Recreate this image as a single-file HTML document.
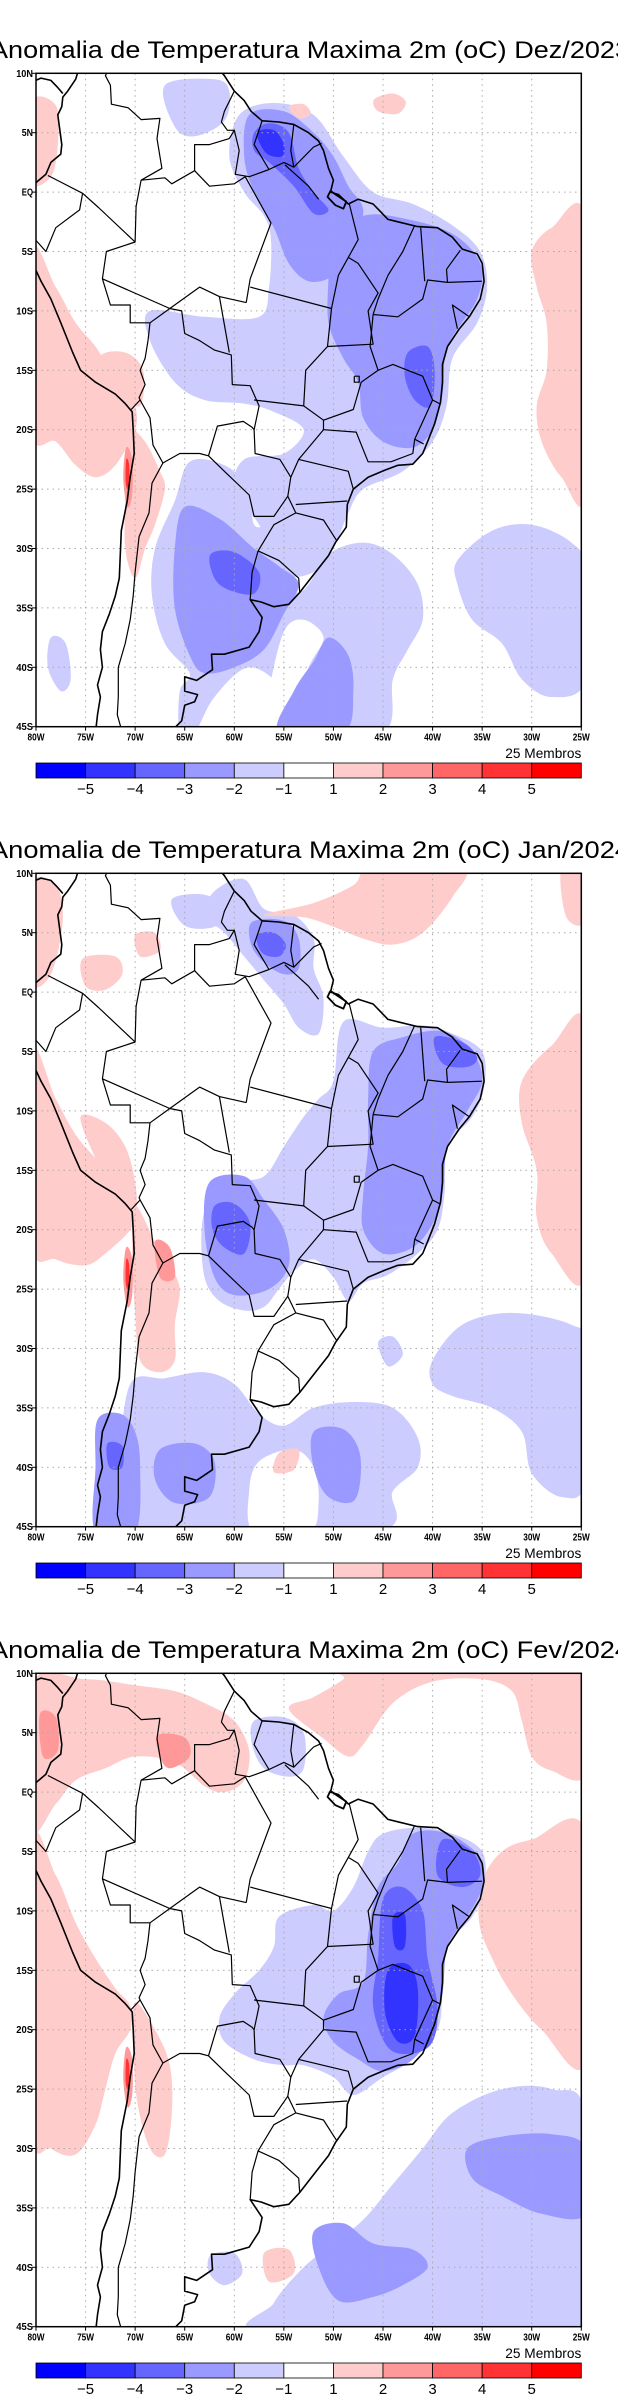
<!DOCTYPE html>
<html><head><meta charset="utf-8"><style>
html,body{margin:0;padding:0;background:#fff;width:618px;height:2400px;overflow:hidden}
svg{display:block}
text{font-family:"Liberation Sans",sans-serif}
</style></head>
<body>
<svg id="fig" width="618" height="2400" viewBox="0 0 618 2400"></svg>
<script>
// ---------- data ----------
const panelTitles = ["Anomalia de Temperatura Maxima 2m (oC) Dez/2023","Anomalia de Temperatura Maxima 2m (oC) Jan/2024","Anomalia de Temperatura Maxima 2m (oC) Fev/2024"];
const latTicks = [10,5,0,-5,-10,-15,-20,-25,-30,-35,-40,-45];
const latLabels = ["10N","5N","EQ","5S","10S","15S","20S","25S","30S","35S","40S","45S"];
const lonTicks = [-80,-75,-70,-65,-60,-55,-50,-45,-40,-35,-30,-25];
const lonLabels = ["80W","75W","70W","65W","60W","55W","50W","45W","40W","35W","30W","25W"];
const cbarLevels = [-5,-4,-3,-2,-1,1,2,3,4,5];
const cbarLabels = ["-5","-4","-3","-2","-1","1","2","3","4","5"];
const cbarColors = ["#0000ff","#3333ff","#6666ff","#9999ff","#ccccff","#ffffff","#ffcccc","#ff9999","#ff6666","#ff3333","#ff0000"];
const levelColor = {"-5":"#0000ff","-4":"#3333ff","-3":"#6666ff","-2":"#9999ff","-1":"#ccccff","0":"#ffffff","1":"#ffcccc","2":"#ff9999","3":"#ff6666","4":"#ff3333","5":"#ff0000"};

const anomDez = [
 [-1,[[-59.5,6.5],[-56,7.5],[-52,6.5],[-49,3],[-46,0],[-42,-1],[-38,-2.8],[-35.2,-5],[-34.5,-8],[-35.5,-11],[-38,-14],[-38.6,-18],[-40,-21],[-43,-23.5],[-47,-25],[-48.5,-27],[-50,-30],[-52,-32],[-55,-32],[-57.5,-28],[-60,-25],[-59,-22.5],[-55,-22],[-53,-20],[-56,-18.5],[-59,-17.8],[-63,-17.5],[-66,-16],[-68.5,-12.5],[-68.5,-10],[-63,-10.5],[-57.5,-10.5],[-56.5,-8],[-56.3,-4],[-57,-2],[-59,0],[-60.5,3]]],
 [-1,[[-67,9],[-62,9.5],[-60.5,8.5],[-61,6],[-64,4.7],[-66,5.5]]],
 [-1,[[-64.5,-22.7],[-61,-23],[-58.5,-25],[-58,-28],[-56,-28.5],[-55,-33],[-53,-33.5],[-50.5,-30.5],[-47,-29.5],[-44,-30.5],[-41.5,-33],[-41,-36],[-42.5,-38.5],[-44,-41],[-45,-45.5],[-54,-45.5],[-55,-42],[-58.5,-40],[-62,-42.5],[-64,-45.5],[-65.5,-45.5],[-65.5,-42],[-64.5,-40.5],[-67,-38],[-68.3,-34],[-68,-30],[-66,-26]]],
 [-1,[[-37.5,-31],[-34,-28.5],[-30,-28],[-26,-29.5],[-24.5,-32],[-24.5,-41],[-28,-42.5],[-31,-41],[-33,-38],[-36,-36],[-37.5,-33]]],
 [-1,[[-78.5,-37.5],[-77,-38],[-76.5,-41],[-77.5,-42],[-78.8,-40]]],
 [0,[[-55,-37],[-53,-36],[-51,-37.5],[-52.5,-40],[-55,-45.5],[-57,-45.5],[-56.5,-42]]],
 [-2,[[-58.5,6.5],[-55,6.8],[-52,5],[-50,3],[-48.5,0.5],[-47,-1.5],[-48,-4.5],[-50,-7],[-52.5,-7.5],[-54.5,-6],[-56,-3],[-58,0],[-59,3]]],
 [-2,[[-50.5,-4],[-47,-2],[-43,-2.2],[-38,-3.5],[-35.2,-6],[-35.5,-9],[-38.5,-13],[-39,-17],[-40,-20],[-42,-21.5],[-45,-21],[-47,-19],[-47.5,-16],[-49,-14],[-50.5,-11],[-50.5,-7]]],
 [-2,[[-65,-26.5],[-61.5,-27.5],[-58,-30],[-55.5,-31.5],[-53.5,-33],[-55,-35.5],[-57,-38.5],[-60,-40],[-63,-40.5],[-64.5,-39],[-66,-35],[-66,-30]]],
 [-2,[[-50.5,-37.5],[-48.5,-39],[-48,-42],[-49,-45.5],[-55.5,-45.5],[-54,-42],[-52,-39.5]]],
 [-3,[[-58,5],[-56.5,5.8],[-54.5,5],[-53.5,2],[-52,0],[-50.5,-1.5],[-52,-1.8],[-54,0.5],[-56.5,2.5],[-58,3.5]]],
 [-3,[[-42.5,-13.5],[-40.5,-13],[-39.8,-15],[-40.2,-18],[-41.8,-17.5],[-42.8,-15.5]]],
 [-3,[[-62.4,-30.5],[-60,-30.3],[-57.5,-32],[-58,-33.8],[-60.5,-33.5],[-62,-32.5]]],
 [-4,[[-57.7,5],[-56,5.2],[-55,4],[-55.2,3],[-56.8,3.3]]],
 [1,[[-80.5,-5],[-78,-8],[-76,-11],[-74,-13],[-72.5,-15],[-71,-16.5],[-70,-18],[-70,-20],[-72,-23],[-74,-24],[-76,-23],[-78,-21],[-80.5,-20]]],
 [1,[[-70.5,-20],[-69,-21],[-67.5,-23.5],[-67,-25],[-68,-28],[-69,-30],[-70,-32.5],[-71,-30],[-71,-25],[-71,-22]]],
 [1,[[-73.5,-13.8],[-71,-13.5],[-69.2,-15],[-69.5,-18],[-71.5,-17],[-73,-16]]],
 [1,[[-80.5,7.5],[-78,7.3],[-77.8,4],[-78.5,1.3],[-80.5,1]]],
 [1,[[-24.5,-2.5],[-28,-3],[-30,-5],[-29.5,-8],[-28.5,-11],[-28.5,-15],[-29.5,-18],[-29,-21],[-27,-24],[-24.5,-25]]],
 [1,[[-45.9,7.8],[-44,8.3],[-42.7,7.6],[-43.5,6.6],[-45.5,6.8]]],
 [1,[[-54.5,7.2],[-53,7.4],[-52.3,6.6],[-53.5,6.2]]],
 [2,[[-70.9,-21.5],[-70.3,-22.5],[-70.3,-25.5],[-70.8,-26.5],[-71.2,-24]]],
 [4,[[-70.9,-22.5],[-70.6,-23],[-70.6,-25],[-70.95,-24.5]]]
];
const anomJan = [
 [-1,[[-62,8.5],[-59,9.5],[-57,7],[-54,6.5],[-52,4.5],[-52,2],[-51,-0.5],[-51.5,-3.5],[-53.5,-3],[-55,-1],[-57,1],[-59,3],[-61,5],[-63,6.5]]],
 [-1,[[-66.3,7.8],[-63,8.2],[-61,7],[-62,5.5],[-65,5.6]]],
 [-1,[[-49,-2.5],[-45,-3],[-41,-2.8],[-38,-3.5],[-35,-5],[-34.8,-8],[-36,-10.5],[-38.5,-13],[-38.8,-17],[-39.5,-20],[-41.5,-22],[-44.5,-23.8],[-47,-24.5],[-48.5,-26],[-50,-24],[-52,-22.5],[-54,-23.5],[-55.5,-25],[-57,-26.5],[-59,-26.8],[-61.5,-26],[-63,-24],[-63.3,-20],[-62.5,-17.5],[-60,-16],[-57,-15.5],[-55,-13],[-53,-10.5],[-51.5,-9],[-50,-7.5]]],
 [-1,[[-70.5,-33],[-67,-32.5],[-63,-32],[-60,-33],[-57.5,-35.5],[-55,-36.5],[-52,-35],[-48,-34.5],[-44,-35],[-41.5,-37.5],[-41.5,-40],[-44,-42],[-46,-45.5],[-70.5,-45.5],[-71.5,-40]]],
 [-1,[[-40,-31],[-37,-28],[-32,-27],[-26,-28],[-24.5,-30],[-24.5,-41],[-27,-42.5],[-30,-40.5],[-31,-37],[-34,-35],[-38,-34],[-40,-33]]],
 [-1,[[-45.5,-29.5],[-44,-29],[-43,-30.5],[-44.5,-31.5]]],
 [0,[[-57.5,-39.5],[-54,-38.5],[-52,-40],[-51.5,-43],[-52.5,-45.5],[-58,-45.5],[-58.5,-42]]],
 [-2,[[-58.2,5.9],[-55,6],[-53.5,4.5],[-53.5,2],[-55,1.5],[-57,2.5],[-58.3,4]]],
 [-2,[[-46,-5],[-43,-3.8],[-39,-3.3],[-36,-5],[-35,-7.5],[-36.5,-10],[-38.5,-13],[-39,-17],[-40,-19.5],[-42,-21.5],[-45,-22],[-47,-20],[-47,-17],[-46.5,-13],[-46.5,-9]]],
 [-2,[[-62.5,-16],[-59,-15.5],[-57,-17.5],[-55,-20],[-54.5,-23],[-56.5,-25],[-60,-25.5],[-62,-24],[-63,-20]]],
 [-2,[[-73.8,-36],[-71.5,-35.5],[-70,-37],[-69.5,-40],[-70,-45.5],[-74,-45.5],[-74,-40]]],
 [-2,[[-67.5,-38.5],[-64,-38],[-62,-39.5],[-62.5,-42.5],[-66,-43],[-68,-41]]],
 [-2,[[-52,-37],[-49,-36.8],[-47.3,-39],[-47.8,-42.7],[-50.5,-42.5],[-52,-40]]],
 [-3,[[-57.7,4.8],[-56,5],[-54.8,4],[-55.5,3],[-57.2,3.3]]],
 [-3,[[-62,-18],[-60,-17.8],[-58.4,-19.5],[-59,-22],[-61,-21.5],[-62.2,-20]]],
 [-3,[[-39.8,-3.8],[-37,-4.2],[-35.5,-5.5],[-36.5,-6.3],[-39,-6]]],
 [-3,[[-72.8,-38],[-71.3,-38.2],[-71.3,-40],[-72.6,-40]]],
 [1,[[-57,6.5],[-52,7.5],[-48,9],[-46,10.5],[-37,10.5],[-38,8],[-41,5],[-44,4],[-47,4.5],[-50,5.5],[-53,6.3]]],
 [1,[[-27,10.5],[-24.5,10.5],[-24.5,6],[-26.5,6.3]]],
 [1,[[-24.5,-3],[-28,-4.5],[-31,-7.5],[-31,-11],[-29.5,-15],[-29.5,-19],[-28,-22],[-24.5,-23.5]]],
 [1,[[-80.5,-5],[-78,-9],[-76,-12],[-74,-14],[-72,-16],[-70.3,-18.5],[-70.5,-20],[-73,-22],[-75,-23],[-78,-22.5],[-80.5,-21]]],
 [1,[[-75.5,-10.5],[-73,-11],[-71,-13],[-70,-16],[-70,-18.4],[-72,-17],[-74,-14]]],
 [1,[[-70,-18],[-68,-21],[-66.5,-23],[-65.5,-25],[-66,-28],[-66,-31],[-67.5,-32],[-69.5,-31],[-70,-27],[-70.3,-22]]],
 [1,[[-80.5,9],[-78,9],[-77.3,6],[-78.5,1.5],[-80.5,1]]],
 [1,[[-75.3,2.8],[-72,3],[-71.3,1.5],[-73,0.2],[-75,0.5]]],
 [1,[[-70,4.8],[-68,5],[-67.5,3.5],[-69.5,3]]],
 [1,[[-55.5,-38.8],[-53.5,-38.5],[-54,-40.2],[-56,-40.4]]],
 [2,[[-68,-21],[-66.5,-21.5],[-66,-24],[-67.5,-24]]],
 [2,[[-70.9,-21.5],[-70.3,-22.5],[-70.3,-25.5],[-70.8,-26.5],[-71.2,-24]]],
 [4,[[-70.9,-22.5],[-70.6,-23],[-70.6,-25],[-70.95,-24.5]]]
];
const anomFev = [
 [1,[[-54.5,7],[-52,8],[-49,9.5],[-48,10.5],[-24.5,10.5],[-24.5,1.6],[-28,1.8],[-30,3],[-31,6],[-32,8.5],[-35,9.5],[-40,9.3],[-44,7.5],[-47,4],[-48.5,3],[-51,4.5]]],
 [1,[[-24.5,-3.5],[-30,-4],[-33,-5],[-35,-7.5],[-35.3,-11],[-34,-14],[-32,-17],[-29,-20],[-24.5,-22.5]]],
 [1,[[-80.5,-4.5],[-78,-7],[-76,-11],[-74,-14],[-72,-16.5],[-70.5,-18],[-70.5,-20],[-72,-22],[-73,-25],[-74,-28],[-76,-30.5],[-78.5,-30],[-80.5,-28]]],
 [1,[[-80.5,9],[-75,9.5],[-70,9],[-66,8.5],[-63,7.5],[-60,6],[-58.5,3.5],[-59,1],[-61,0],[-63,0.5],[-66,2.5],[-70,3],[-73,2],[-76,1],[-78,-1],[-80.5,-3]]],
 [1,[[-70,-17.7],[-68,-20],[-66.5,-23],[-66.3,-27],[-67,-30.5],[-68.5,-30],[-69.8,-26],[-70.2,-21]]],
 [1,[[-57,-38.8],[-54.5,-38.5],[-54,-40.5],[-56.5,-41.2]]],
 [2,[[-67.7,4.8],[-65,4.6],[-64.5,3],[-66.5,2],[-67.5,3]]],
 [2,[[-79.6,6.6],[-78,6.3],[-77.8,3.5],[-79.3,3]]],
 [2,[[-70.9,-21.5],[-70.3,-22.5],[-70.3,-25.5],[-70.8,-26.5],[-71.2,-24]]],
 [4,[[-70.9,-22.5],[-70.6,-23],[-70.6,-25],[-70.95,-24.5]]],
 [-1,[[-55.5,-10.5],[-52,-9.5],[-50,-10],[-48,-8],[-46.5,-5],[-45,-3.5],[-41.5,-3],[-38,-3.5],[-35,-5],[-34.8,-8],[-36,-10.5],[-38.5,-13],[-39,-17],[-39.5,-20],[-42,-22.5],[-45,-24],[-48,-25.5],[-50,-24],[-53,-23],[-55,-23],[-58,-22.5],[-61,-21],[-61.5,-19],[-60,-17],[-57.5,-15],[-56,-13]]],
 [-1,[[-58,6],[-55,6.3],[-53,5],[-53,2],[-54.5,1.3],[-57,2],[-58.2,4]]],
 [-1,[[-24.5,-27.5],[-28,-25],[-33,-25],[-38,-27],[-41,-30],[-44,-33],[-47,-36],[-50,-38],[-53,-40],[-56,-43],[-56.5,-45.5],[-24.5,-45.5]]],
 [-1,[[-62.4,-39],[-60,-38.8],[-59.2,-40.5],[-61,-41.5],[-62.5,-40.5]]],
 [-2,[[-42,-3.5],[-38.5,-3.5],[-35.2,-5.5],[-35,-8],[-36.5,-10.5],[-38.5,-13],[-39,-17],[-40,-20],[-42,-22.5],[-45,-23.5],[-47.5,-22.5],[-50,-21],[-51,-19],[-49.5,-17],[-47,-16],[-46.5,-12],[-45.5,-8],[-43.5,-6]]],
 [-2,[[-36.5,-30],[-33,-29],[-28,-28.8],[-24.5,-30],[-24.5,-35.5],[-29,-35.5],[-33,-34],[-36,-32.5]]],
 [-2,[[-52,-37],[-49,-36.3],[-46,-38],[-42,-38.5],[-40.5,-40],[-43,-41.5],[-46,-42.5],[-49.5,-42.8],[-51.5,-40]]],
 [-3,[[-45,-9],[-43,-8],[-41,-10],[-40.5,-14],[-39.5,-18],[-40,-21],[-42,-22],[-44.5,-21.5],[-46,-18],[-45.5,-14]]],
 [-3,[[-39,-4],[-36,-5],[-35.2,-7],[-37,-8],[-39.5,-7]]],
 [-4,[[-44.5,-15],[-42.5,-14.5],[-41.5,-16.5],[-41.8,-20.5],[-43.5,-21],[-44.8,-18.5]]],
 [-4,[[-44,-10.5],[-42.8,-10.3],[-42.8,-13],[-43.8,-13]]]
];
const panelAnom = [anomDez, anomJan, anomFev];

const coastAtlantic = [[-61.8,10.6],[-61,9.8],[-60,8.5],[-59,7.7],[-58.3,6.8],[-57.2,6],[-55.5,5.9],[-54,5.7],[-52.5,5],[-51.5,4.3],[-51,3.5],[-50.5,2],[-50,1],[-50.3,0],[-49.5,-0.2],[-48.5,-1],[-47.5,-0.6],[-46,-1],[-44.5,-2.3],[-43.5,-2.5],[-41.5,-2.9],[-39.5,-3],[-38,-3.8],[-37,-4.8],[-35.5,-5.2],[-35,-6],[-34.8,-7.5],[-35.2,-9],[-36.3,-10.5],[-37.3,-11.5],[-38.5,-13],[-39,-14.5],[-39,-16],[-39.2,-17.7],[-39.8,-19.5],[-40.5,-21],[-41,-22],[-42,-22.9],[-43.5,-23],[-44.8,-23.4],[-46.5,-24],[-48,-25],[-48.6,-26.3],[-48.7,-28.2],[-49.8,-29.5],[-50.5,-30.6],[-52,-32.2],[-53.4,-33.7],[-54.5,-34.7],[-56,-34.9],[-57.3,-34.5],[-58.4,-34.3],[-57.2,-35.8],[-57.5,-37],[-58.5,-38.3],[-61,-38.9],[-62.3,-38.9],[-62.2,-40.2],[-63.8,-41.1],[-65,-40.8],[-65,-42],[-63.7,-42.3],[-64,-42.9],[-65,-43.2],[-65.3,-44.5],[-66.5,-45.5]];
const coastPacific = [[-75.6,10.6],[-76,9.5],[-76.8,8.5],[-77.3,8],[-77.4,7.2],[-77.8,6.5],[-77.4,4],[-77.5,3.2],[-78.5,2.5],[-79,1.5],[-80,0.8],[-80.6,-0.5]];
const coastPacific2 = [[-80.6,-6],[-80,-6.6],[-79.5,-7.5],[-78.5,-9],[-77.5,-11],[-76.3,-13.5],[-75.5,-15],[-74,-16],[-72,-17],[-71,-17.8],[-70.3,-18.5],[-70.2,-20],[-70.1,-22],[-70.5,-24],[-70.8,-26],[-71.4,-28.5],[-71.5,-30.5],[-71.6,-32.5],[-72,-34],[-72.6,-35.5],[-73.3,-37],[-73.5,-38.5],[-73.3,-40],[-73.8,-41.5],[-73.5,-42.5],[-73.8,-44],[-74,-45.5]];
const panama = [[-80.6,9.2],[-79.5,9.6],[-78.5,9.4],[-77.8,8.8],[-77.3,8.3]];
const borders = [
 [[-53.4,-33.7],[-53.5,-32.5],[-55.5,-31],[-57.6,-30.2],[-56,-28],[-53.8,-27],[-54.6,-25.6],[-54.3,-24],[-55.4,-22.5],[-57.9,-22],[-58,-20],[-57.5,-18],[-58.4,-16.3],[-60.2,-16.2],[-60.3,-13.7],[-62,-13.3],[-63.5,-12.5],[-65,-11.9],[-65.3,-10],[-66.5,-9.8],[-68.5,-11],[-70.5,-11],[-70.5,-9.5],[-72.5,-9.5],[-73.3,-7.3],[-72.9,-5],[-70,-4.2],[-69.9,-1.2],[-69.4,1],[-67,1.2],[-66.3,0.7],[-64,1.8],[-64,4],[-62.5,4],[-60.5,4.5],[-60,5.2],[-59.5,3.5],[-59.9,1.5],[-58.5,1.3],[-56.5,1.9],[-55,2.5],[-54,2.1],[-52,3.8],[-51.2,4.1]],
 [[-70,-4.2],[-73.7,-1.3],[-75.3,-0.1],[-77.4,0.8],[-78.8,1.4]],
 [[-75.3,-0.1],[-75.6,-1.5],[-78,-3],[-79,-5],[-80.6,-3.5]],
 [[-69.4,1],[-67.3,2],[-67.8,4.5],[-67.5,6.2],[-69.4,6.1],[-70.7,7.1],[-72.4,7.4],[-72.5,9],[-73,9.8],[-72.5,10.6]],
 [[-60,8.5],[-61,6.8],[-61.3,5.9],[-60.7,5.2],[-60,5.2]],
 [[-57.2,6],[-58,4],[-56.5,1.9]],
 [[-54,5.7],[-54.3,3.5],[-54,2.1]],
 [[-68.5,-11],[-68.7,-12.5],[-69,-14],[-69.5,-15],[-69,-16.2],[-69.6,-17.3],[-69.5,-17.5],[-70.4,-18.3]],
 [[-69.5,-17.5],[-68.5,-19],[-68.2,-21.3],[-67.2,-22.8],[-65.5,-22],[-63.5,-22],[-62.6,-22.2],[-61.7,-19.7],[-59.1,-19.3],[-58.2,-19.8],[-58,-20]],
 [[-62.6,-22.2],[-61,-23.5],[-58.5,-25.5],[-58,-27.3],[-56,-27.3],[-54.6,-25.6]],
 [[-67.2,-22.8],[-68.3,-24.5],[-68.6,-27],[-69.6,-29],[-70,-32],[-70.2,-34],[-70.5,-36],[-71,-38],[-71.7,-40],[-71.7,-42.5],[-71.8,-44],[-71.3,-45.5]],
 [[-57.6,-30.2],[-58.2,-32],[-58.4,-34.3]],
 [[-58.9,1.3],[-56.3,-2.6],[-58.4,-7.3],[-58.8,-9.3]],
 [[-58.4,-8],[-50.2,-9.8]],
 [[-66.5,-9.8],[-63.5,-8],[-61.5,-8.8],[-58.8,-9.3]],
 [[-61.5,-8.8],[-60.5,-13.5]],
 [[-73.3,-7.3],[-66.5,-9.8]],
 [[-64,1.8],[-62.5,0.5],[-60,0.7],[-58.9,1.3]],
 [[-54.9,2.3],[-52.5,0.5],[-51.5,-0.6]],
 [[-48.4,-1],[-47.5,-4],[-48.5,-5.5],[-49.5,-7],[-50.2,-9.8],[-50.6,-13]],
 [[-50.6,-13],[-46,-12.8],[-46.5,-10],[-45.5,-8.5],[-47.5,-6],[-48.5,-5.5]],
 [[-41.8,-2.8],[-43,-5],[-44.5,-7],[-45.5,-9],[-46,-10.3]],
 [[-41.2,-3],[-40.8,-7.5]],
 [[-37.2,-4.9],[-38.6,-6.5],[-38.5,-7.6]],
 [[-35,-7.5],[-38.5,-7.6],[-40.5,-7.4],[-41,-9],[-43.5,-10.5],[-46,-10.3]],
 [[-46,-10.3],[-46.3,-13],[-45.5,-15],[-44,-14.5],[-41,-15.5],[-40,-17.5],[-39.3,-17.8]],
 [[-36.3,-10.5],[-38,-9.5],[-37.5,-11.5]],
 [[-51,-19.2],[-48,-18.3],[-47.2,-16],[-45.5,-15]],
 [[-40,-17.5],[-41.8,-20.8],[-42,-22],[-44.2,-22.7],[-46.5,-22.7],[-47.7,-20.2],[-51,-20]],
 [[-58,-17.5],[-53,-18],[-51,-19.2],[-51,-20]],
 [[-50.6,-13],[-52.8,-15],[-53,-18]],
 [[-51,-20],[-53.5,-22.5],[-54.3,-24]],
 [[-53.5,-22.5],[-48.5,-23.5],[-48,-25]],
 [[-53.8,-26.3],[-48.6,-26]],
 [[-53.8,-27],[-51,-27.6],[-49.7,-29.3]],
 [[-41.8,-20.8],[-40.9,-21.2]],
 [[-47.9,-15.5],[-47.4,-15.5],[-47.4,-16],[-47.9,-16],[-47.9,-15.5]]
];
const marajo = [[-50.6,-0.4],[-49.8,-1.1],[-49,-1.4],[-48.7,-0.8],[-49.6,-0.3],[-50.3,0.1]];

// ---------- drawing ----------
const NS = "http://www.w3.org/2000/svg";
const svg = document.getElementById("fig");
const MAPL = 36, MAPR = 581.3, MAPH = 653.4, TOP0 = 73.3, STEP = 800;
function mk(tag, attrs, parent){const e=document.createElementNS(NS,tag);for(const k in attrs)e.setAttribute(k,attrs[k]);(parent||svg).appendChild(e);return e;}
function xScale(lon){return MAPL+(lon+80)*(MAPR-MAPL)/55;}
function yScale(lat,top){return top+(10-lat)*MAPH/55;}
function smoothClosed(pts){
  const n=pts.length;let d="M"+pts[0][0].toFixed(1)+","+pts[0][1].toFixed(1);
  for(let i=0;i<n;i++){const p0=pts[(i-1+n)%n],p1=pts[i],p2=pts[(i+1)%n],p3=pts[(i+2)%n];
    const c1=[p1[0]+(p2[0]-p0[0])/6,p1[1]+(p2[1]-p0[1])/6],c2=[p2[0]-(p3[0]-p1[0])/6,p2[1]-(p3[1]-p1[1])/6];
    d+="C"+c1[0].toFixed(1)+","+c1[1].toFixed(1)+" "+c2[0].toFixed(1)+","+c2[1].toFixed(1)+" "+p2[0].toFixed(1)+","+p2[1].toFixed(1);}
  return d+"Z";}
function lineD(pts,top){return pts.map((p,i)=>(i?"L":"M")+xScale(p[0]).toFixed(1)+","+yScale(p[1],top).toFixed(1)).join("");}

for(let p=0;p<3;p++){
  const off=p*STEP, top=TOP0+off, bot=top+MAPH;
  const g=mk("g",{});
  
  
  const t=mk("text",{x:-10,y:58+off,"font-size":24,textLength:640,lengthAdjust:"spacingAndGlyphs",fill:"#000"},g);
  t.textContent=panelTitles[p];
  
  
  const cp=mk("clipPath",{id:"clip"+p},g);
  mk("rect",{x:MAPL,y:top,width:MAPR-MAPL,height:MAPH},cp);
  const field=mk("g",{"clip-path":"url(#clip"+p+")"},g);
  
  
  panelAnom[p].forEach(function(r){
    const pts=r[1].map(q=>[xScale(q[0]),yScale(q[1],top)]);
    const path=mk("path",{d:smoothClosed(pts),fill:levelColor[String(r[0])]},field);
    
    
  });
  const grid=mk("g",{stroke:"#aaa","stroke-width":1,"stroke-dasharray":"1.5,4"},g);
  
  
  lonTicks.slice(1,-1).forEach(lon=>mk("line",{x1:xScale(lon),x2:xScale(lon),y1:top,y2:bot},grid));
  latTicks.slice(1,-1).forEach(lat=>mk("line",{x1:MAPL,x2:MAPR,y1:yScale(lat,top),y2:yScale(lat,top)},grid));
  const geo=mk("g",{"clip-path":"url(#clip"+p+")",fill:"none",stroke:"#000","stroke-linejoin":"round"},g);
  
  
  [coastAtlantic,coastPacific,coastPacific2,panama].forEach(c=>mk("path",{d:lineD(c,top),"stroke-width":1.6},geo));
  borders.forEach(b=>mk("path",{d:lineD(b,top),"stroke-width":1.2},geo));
  const isl=mk("path",{d:lineD(marajo,top)+"Z",fill:"none",stroke:"#000","stroke-width":1.8},geo);
  
  
  const fr=mk("rect",{x:MAPL,y:top,width:MAPR-MAPL,height:MAPH,fill:"none",stroke:"#000","stroke-width":1.5},g);
  
  
  latTicks.forEach((lat,i)=>{const y=yScale(lat,top);
    mk("line",{x1:MAPL-4,x2:MAPL,y1:y,y2:y,stroke:"#000","stroke-width":1},g);
    const lt=mk("text",{x:33,y:y+3.5,"font-size":10,"text-anchor":"end","font-weight":"bold",textLength:latLabels[i].length*5.6,lengthAdjust:"spacingAndGlyphs"},g);
    lt.textContent=latLabels[i];
    
    });
  lonTicks.forEach((lon,i)=>{const x=xScale(lon);
    mk("line",{x1:x,x2:x,y1:bot,y2:bot+4,stroke:"#000","stroke-width":1},g);
    const lt=mk("text",{x:x,y:bot+14,"font-size":10,"text-anchor":"middle","font-weight":"bold",textLength:17,lengthAdjust:"spacingAndGlyphs"},g);
    lt.textContent=lonLabels[i];
    
    });
  const mem=mk("text",{x:MAPR,y:758+off,"font-size":14,"text-anchor":"end",textLength:76,lengthAdjust:"spacingAndGlyphs"},g);
  mem.textContent="25 Membros";
  
  
  const cb=mk("g",{},g);
  
  
  const bw=(MAPR-MAPL)/cbarColors.length;
  cbarColors.forEach((c,i)=>{const r=mk("rect",{x:MAPL+i*bw,y:763+off,width:bw,height:15,fill:c,stroke:"#000","stroke-width":0.8},cb);
    
    });
  cbarLevels.forEach((v,i)=>{const lt=mk("text",{x:MAPL+(i+1)*bw,y:794+off,"font-size":15,"text-anchor":"middle"},cb);
    lt.textContent=cbarLabels[i].replace("-","\u2212");
    
    });
}
</script>
</body></html>
